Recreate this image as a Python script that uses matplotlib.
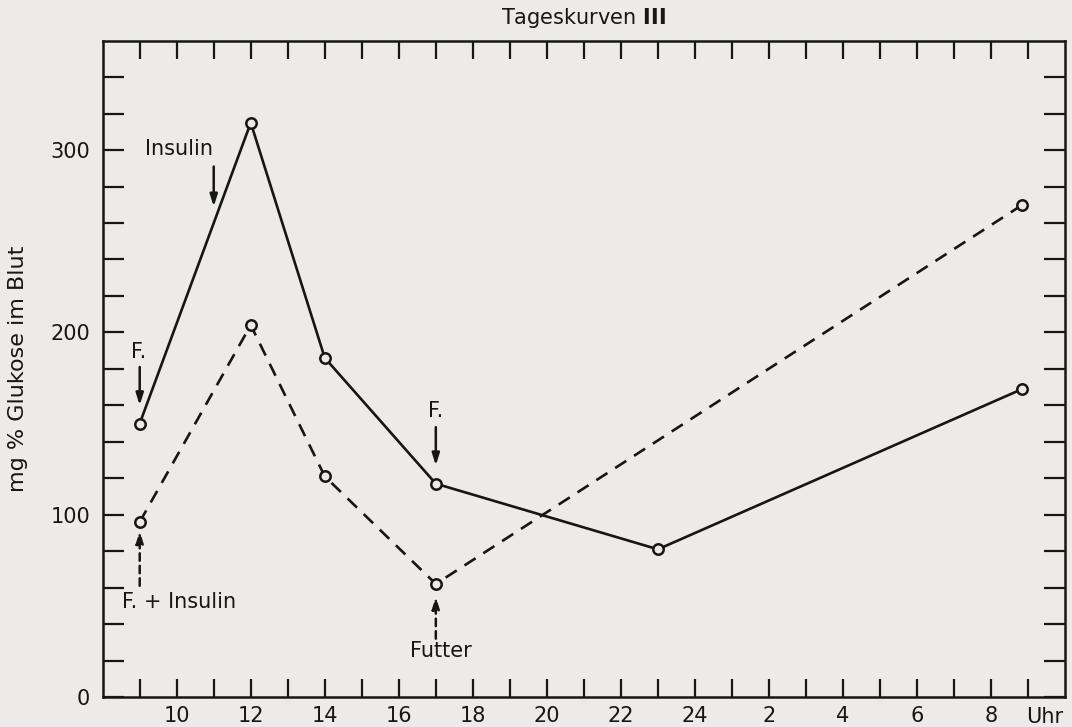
import matplotlib
matplotlib.use("Agg")
import matplotlib.pyplot as plt
import numpy as np

# Data (hours; values after 24 continue as 25, 26, ... = next morning)
hours_solid = [9, 12, 14, 17, 23, 32.85]
glucose_solid = [150, 315, 186, 117, 81, 169]
hours_dashed = [9, 12, 14, 17, 32.85]
glucose_dashed = [96, 204, 121, 62, 270]

xtick_pos = [10, 12, 14, 16, 18, 20, 22, 24, 26, 28, 30, 32]
xtick_labels = ["10", "12", "14", "16", "18", "20", "22", "24", "2", "4", "6", "8"]
ytick_pos = [0, 100, 200, 300]
ytick_labels = ["0", "100", "200", "300"]

bg = "#ecebe9"
ink = "#161616"

plt.rcParams["font.family"] = ["DejaVu Sans"]
fig = plt.figure(figsize=(10.72, 7.27), dpi=100, facecolor=bg)
ax = fig.add_axes([0.0958, 0.0413, 0.8977, 0.9027], facecolor=bg)

ax.plot(hours_solid, glucose_solid, color=ink, lw=1.9, marker="o", ms=7.5,
        mfc=bg, mec=ink, mew=1.8, zorder=3)
ax.plot(hours_dashed, glucose_dashed, color=ink, lw=1.9, ls=(0, (5, 3.5)),
        marker="o", ms=7.5, mfc=bg, mec=ink, mew=1.8, zorder=3)

ax.set_xlim(8, 34)
ax.set_ylim(0, 360)
ax.set_xticks(np.arange(9, 34))
ax.set_xticklabels([xtick_labels[xtick_pos.index(h)] if h in xtick_pos else "" for h in range(9, 34)])
ax.set_yticks(np.arange(0, 360, 20))
ax.set_yticklabels([ytick_labels[ytick_pos.index(v)] if v in ytick_pos else "" for v in range(0, 360, 20)])

ax.tick_params(axis="x", direction="in", length=13, width=1.6, colors=ink,
               labelsize=15, pad=6.5, top=True)
ax.tick_params(axis="y", direction="in", length=15, width=1.6, colors=ink,
               labelsize=15, pad=9, right=True)
for s in ax.spines.values():
    s.set_linewidth(1.8)
    s.set_color(ink)

ax.text(33.45, -0.0155, "Uhr", transform=ax.get_xaxis_transform(), ha="center",
        va="top", fontsize=15, color=ink)

ax.set_ylabel("mg % Glukose im Blut", fontsize=16, color=ink, labelpad=16)
ax.set_title("Tageskurven $\\mathbf{III}$", fontsize=15, color=ink, pad=12, x=0.50)

# annotations
arrow_solid = dict(arrowstyle="-|>,head_length=0.7,head_width=0.22", color=ink, lw=1.8,
                   shrinkA=0, shrinkB=0)
arrow_dash = dict(arrowstyle="-|>,head_length=0.7,head_width=0.22", color=ink, lw=1.8,
                  ls=(0, (3, 2)), shrinkA=0, shrinkB=0)

ax.text(10.05, 300.5, "Insulin", fontsize=15, color=ink, ha="center", va="center")
ax.annotate("", xy=(11, 269), xytext=(11, 291), arrowprops=arrow_solid)

ax.text(8.97, 189, "F.", fontsize=15, color=ink, ha="center", va="center")
ax.annotate("", xy=(9, 160), xytext=(9, 181), arrowprops=arrow_solid)

ax.text(17, 157, "F.", fontsize=15, color=ink, ha="center", va="center")
ax.annotate("", xy=(17, 127), xytext=(17, 148), arrowprops=arrow_solid)

ax.annotate("", xy=(9, 91), xytext=(9, 61), arrowprops=arrow_dash)
ax.text(10.05, 52, "F. + Insulin", fontsize=15, color=ink, ha="center", va="center")

ax.annotate("", xy=(17, 55), xytext=(17, 32), arrowprops=arrow_dash)
ax.text(17.15, 25, "Futter", fontsize=15, color=ink, ha="center", va="center")

fig.savefig("out.png", dpi=100, facecolor=bg)
